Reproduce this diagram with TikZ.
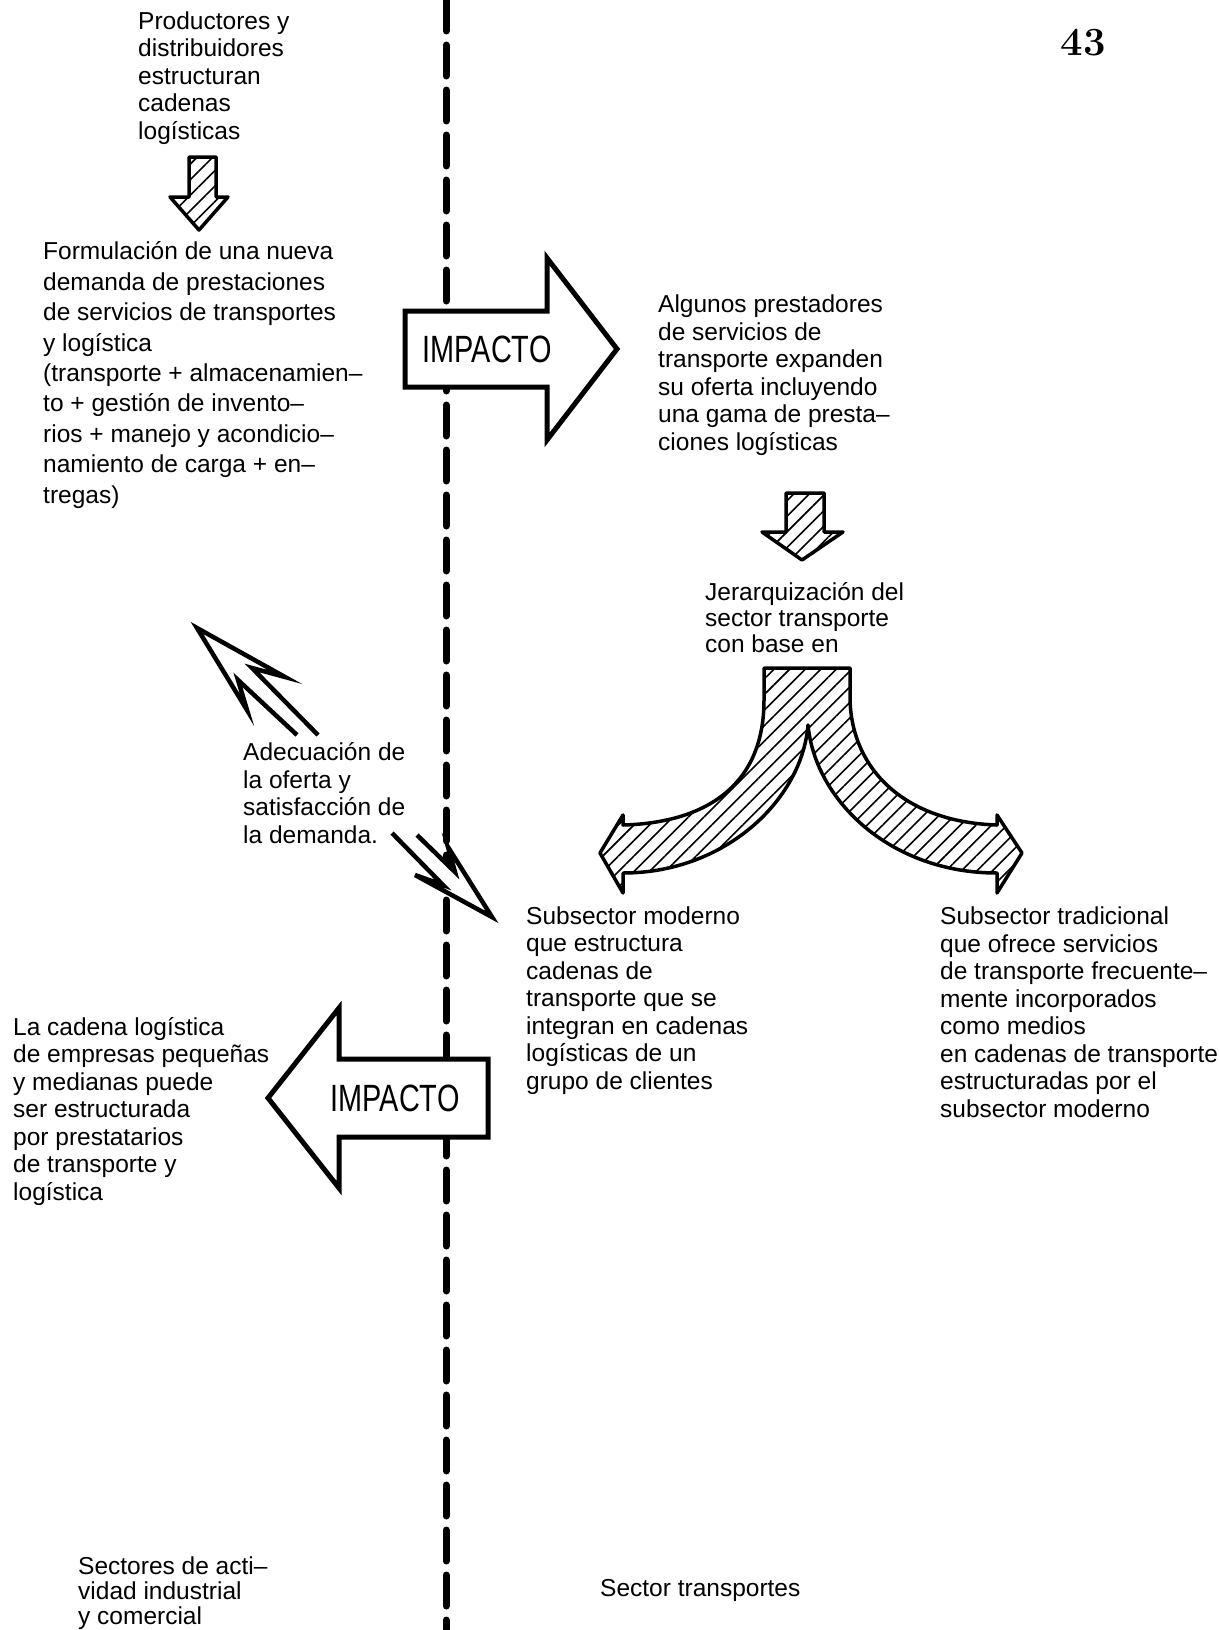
\documentclass[tikz,border=0pt]{standalone}
\usepackage{fontspec}
\setsansfont{Liberation Sans}
\usetikzlibrary{patterns.meta}

\begin{document}
\begin{tikzpicture}[x=1pt,y=-1pt,
  txt/.style={font=\sffamily\fontsize{24.5}{27.5}\selectfont, align=left, inner sep=0pt, anchor=base west},
  impacto/.style={font=\sffamily\fontsize{38}{38}\selectfont, inner sep=0pt},
  bigarrow/.style={draw, line width=5pt, line join=miter, fill=white},
  hatched/.style={draw, line width=3.5pt, line join=round, pattern={Lines[angle=45,distance=11pt,line width=1.6pt]}},
  hollow/.style={draw, line width=4.5pt, line join=miter, fill=white},
  divider/.style={line width=7pt, dash pattern=on 31pt off 14pt, line cap=round}]

  \fill[white] (0,0) rectangle (1219,1630);
  \useasboundingbox (0,0) rectangle (1219,1630);

  % the two sectors, split by the dashed line
  \coordinate (divtop) at (446,0);
  \coordinate (divbot) at (446,1630);
  \draw[divider] (divtop) -- (divbot);

  \node[font=\rmfamily\bfseries\fontsize{40}{40}\selectfont, inner sep=0pt] (pagenum) at (1083,43) {43};

  % left column (text nodes sit on the baseline of their last line)
  \node[txt] (prod) at (138,139) {Productores y\\distribuidores\\estructuran\\cadenas\\logísticas};
  \draw[hatched] (189,157) -- (216,157) -- (216,197) -- (228,197) -- (199,230) -- (170,197) -- (189,197) -- cycle;
  \node[txt, font=\sffamily\fontsize{24.5}{30.4}\selectfont] (formul) at (43,503)
    {Formulación de una nueva\\demanda de prestaciones\\de servicios de transportes\\y logística\\(transporte + almacenamien–\\to + gestión de invento–\\rios + manejo y acondicio–\\namiento de carga + en–\\tregas)};

  % impact towards the transport sector
  \draw[bigarrow] (405,311) -- (547,311) -- (547,258) -- (617,349) -- (547,440) -- (547,387) -- (405,387) -- cycle;
  \node[impacto] (imp1) at (487,349) {\scalebox{0.76}[1]{IMPACTO}};
  \node[txt] (algunos) at (658,450) {Algunos prestadores\\de servicios de\\transporte expanden\\su oferta incluyendo\\una gama de presta–\\ciones logísticas};

  \draw[hatched] (786,493) -- (824,493) -- (824,532) -- (843,532) -- (802,560) -- (762,532) -- (786,532) -- cycle;
  \node[txt, font=\sffamily\fontsize{24.5}{26}\selectfont] (jerar) at (705,652) {Jerarquización del\\sector transporte\\con base en};

  % split into the two subsectors
  \draw[hatched] (764,668) -- (850,668) -- (850,700)
    .. controls (852,770) and (905,822) .. (997,825)
    -- (997,815) -- (1022,853) -- (997,893) -- (997,873)
    .. controls (890,873) and (815,800) .. (808,725)
    .. controls (802,800) and (725,873) .. (623,873)
    -- (623,893) -- (600,853) -- (623,815) -- (623,825)
    .. controls (700,823) and (764,790) .. (764,700) -- cycle;

  \node[txt] (moderno) at (526,1089) {Subsector moderno\\que estructura\\cadenas de\\transporte que se\\integran en cadenas\\logísticas de un\\grupo de clientes};
  \node[txt] (tradic) at (940,1117) {Subsector tradicional\\que ofrece servicios\\de transporte frecuente–\\mente incorporados\\como medios\\en cadenas de transporte\\estructuradas por el\\subsector moderno};

  % feedback between supply and demand
  \draw[hollow] (297,735) -- (238,680) -- (247,710) -- (197,628) -- (285,677) -- (252,668) -- (318,735);
  \node[txt] (adecua) at (243,843) {Adecuación de\\la oferta y\\satisfacción de\\la demanda.};
  \draw[hollow] (392,833) -- (443,885) -- (415,875) -- (492,917) -- (448,847) -- (455,872) -- (417,835);

  % impact back on the industrial sector
  \draw[bigarrow] (488,1059) -- (339,1059) -- (339,1008) -- (268,1098) -- (339,1188) -- (339,1137) -- (488,1137) -- cycle;
  \node[impacto] (imp2) at (395,1098) {\scalebox{0.76}[1]{IMPACTO}};
  \node[txt] (cadena) at (13,1200) {La cadena logística\\de empresas pequeñas\\y medianas puede\\ser estructurada\\por prestatarios\\de transporte y\\logística};

  % sector names
  \node[txt, font=\sffamily\fontsize{24.5}{25}\selectfont] (sectind) at (78,1624) {Sectores de acti–\\vidad industrial\\y comercial};
  \node[txt] (secttrans) at (600,1596) {Sector transportes};
\end{tikzpicture}
\end{document}
